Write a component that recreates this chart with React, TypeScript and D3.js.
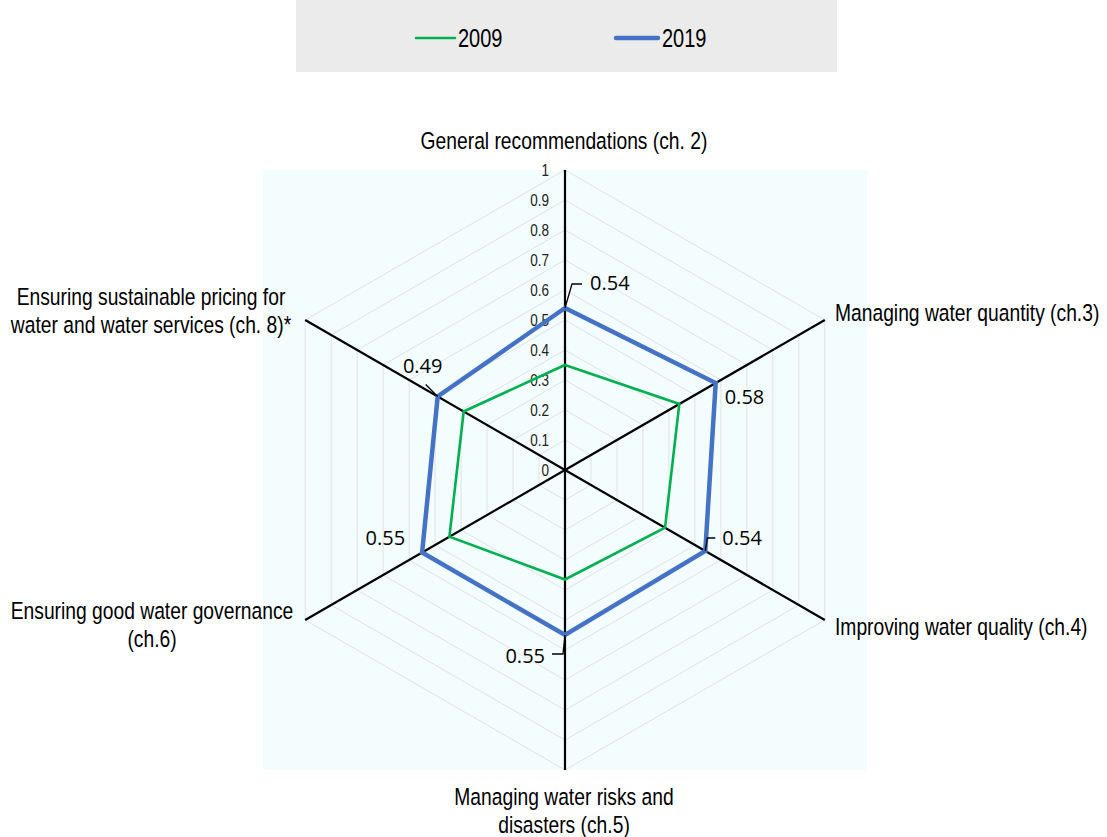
import React from "react";
import * as d3 from "d3";

const categories = [
  "General recommendations (ch. 2)",
  "Managing water quantity (ch.3)",
  "Improving water quality (ch.4)",
  "Managing water risks and disasters (ch.5)",
  "Ensuring good water governance (ch.6)",
  "Ensuring sustainable pricing for water and water services (ch. 8)*",
];
const values2009 = [0.35, 0.44, 0.385, 0.365, 0.445, 0.39];
const values2019 = [0.54, 0.58, 0.54, 0.55, 0.55, 0.49];
const ticks = [0, 0.1, 0.2, 0.3, 0.4, 0.5, 0.6, 0.7, 0.8, 0.9, 1];
const seriesNames = ["2009", "2019"];

const W = 1107;
const H = 837;
const cx = 565;
const cy = 470;
const R = 300;
const sans = "'Liberation Sans', Arial, sans-serif";
const labelFont = "'Open Sans', 'Noto Sans', sans-serif";
const NARROW = 0.82;

const rScale = d3.scaleLinear().domain([0, 1]).range([0, R]);
const angle = (i: number) => (i * 2 * Math.PI) / categories.length;
const pt = (i: number, v: number): [number, number] => {
  const a = angle(i);
  return [cx + rScale(v) * Math.sin(a), cy - rScale(v) * Math.cos(a)];
};

const radial = d3
  .lineRadial<number>()
  .angle((_, i) => angle(i))
  .radius((d) => rScale(d))
  .curve(d3.curveLinearClosed);

// category label layout
const catLabels = [
  { lines: ["General recommendations (ch. 2)"], x: 564, y: 149, anchor: "middle" },
  { lines: ["Managing water quantity (ch.3)"], x: 835, y: 321, anchor: "start" },
  { lines: ["Improving water quality (ch.4)"], x: 835, y: 635, anchor: "start" },
  { lines: ["Managing water risks and", "disasters (ch.5)"], x: 564, y: 805, anchor: "middle" },
  { lines: ["Ensuring good water governance", "(ch.6)"], x: 152, y: 619, anchor: "middle" },
  { lines: ["Ensuring sustainable pricing for", "water and water services (ch. 8)*"], x: 151, y: 305, anchor: "middle" },
];

// data label offsets (relative to point) and leader lines
const dl = [
  { dx: 25, dy: -25, anchor: "start", leader: [[0, 0], [7, -24], [17, -24]] },
  { dx: 9, dy: 14, anchor: "start", leader: null },
  { dx: 17, dy: -13, anchor: "start", leader: [[0, 0], [2, -13], [10, -13]] },
  { dx: -20, dy: 21, anchor: "end", leader: [[0, 0], [-2, 19], [-13, 19]] },
  { dx: -17, dy: -15, anchor: "end", leader: null },
  { dx: -15, dy: -31, anchor: "middle", leader: [[0, 0], [-12, -12]] },
];

function NarrowText(props: {
  x: number;
  y: number;
  lines: string[];
  size: number;
  anchor: string;
  lineH?: number;
  fill?: string;
  scale?: number;
}) {
  const { x, y, lines, size, anchor, lineH = 28, fill = "#000", scale = NARROW } = props;
  return (
    <g transform={`translate(${x},${y}) scale(${scale},1)`}>
      <text textAnchor={anchor as any} fontFamily={sans} fontSize={size} fill={fill}>
        {lines.map((l, j) => (
          <tspan key={j} x={0} y={j * lineH}>
            {l}
          </tspan>
        ))}
      </text>
    </g>
  );
}

export default function App() {
  const gridHex = ticks.slice(1).map((t) => categories.map((_, i) => pt(i, t)));
  return (
    <svg width={W} height={H} style={{ display: "block", position: "absolute", left: 0, top: 0 }}>
      <rect x={0} y={0} width={W} height={H} fill="#ffffff" />
      {/* legend */}
      <rect x={296} y={0} width={541} height={72} fill="#ebebeb" />
      <line x1={416} x2={455} y1={38} y2={38} stroke="#00b050" strokeWidth={2.5} strokeLinecap="round" />
      <NarrowText x={458} y={47} lines={[seriesNames[0]]} size={25} anchor="start" scale={0.8} />
      <line x1={616} x2={658} y1={38} y2={38} stroke="#4472c4" strokeWidth={4.5} strokeLinecap="round" />
      <NarrowText x={662} y={47} lines={[seriesNames[1]]} size={25} anchor="start" scale={0.8} />

      {/* plot area */}
      <rect x={263} y={170} width={604} height={600} fill="#f3fdfd" />
      {gridHex.map((hex, k) => (
        <polygon
          key={k}
          points={hex.map((p) => p.join(",")).join(" ")}
          fill="none"
          stroke="#e2e2e2"
          strokeWidth={1}
        />
      ))}
      {categories.map((_, i) => {
        const [x, y] = pt(i, 1);
        return <line key={i} x1={cx} y1={cy} x2={x} y2={y} stroke="#000" strokeWidth={2.2} />;
      })}
      {ticks.map((t) => (
        <NarrowText
          key={t}
          x={549}
          y={cy - rScale(t) + 6}
          lines={[String(t)]}
          size={16.5}
          anchor="end"
          fill="#222"
        />
      ))}

      <path
        d={radial(values2009) || ""}
        transform={`translate(${cx},${cy})`}
        fill="none"
        stroke="#00b050"
        strokeWidth={2.6}
        strokeLinejoin="miter"
      />
      <path
        d={radial(values2019) || ""}
        transform={`translate(${cx},${cy})`}
        fill="none"
        stroke="#4472c4"
        strokeWidth={4.5}
        strokeLinejoin="miter"
      />

      {/* data labels */}
      {values2019.map((v, i) => {
        const [x, y] = pt(i, v);
        const o = dl[i];
        return (
          <g key={i}>
            {o.leader && (
              <polyline
                points={o.leader.map(([a, b]) => `${x + a},${y + b}`).join(" ")}
                fill="none"
                stroke="#000"
                strokeWidth={1.3}
              />
            )}
            <text
              x={x + o.dx}
              y={y + o.dy + 7}
              textAnchor={o.anchor as any}
              fontFamily={labelFont}
              fontSize={20}
              fill="#000"
            >
              {v.toFixed(2)}
            </text>
          </g>
        );
      })}

      {/* category labels */}
      {catLabels.map((c, i) => (
        <NarrowText key={i} x={c.x} y={c.y} lines={c.lines} size={23.5} anchor={c.anchor} />
      ))}
    </svg>
  );
}
